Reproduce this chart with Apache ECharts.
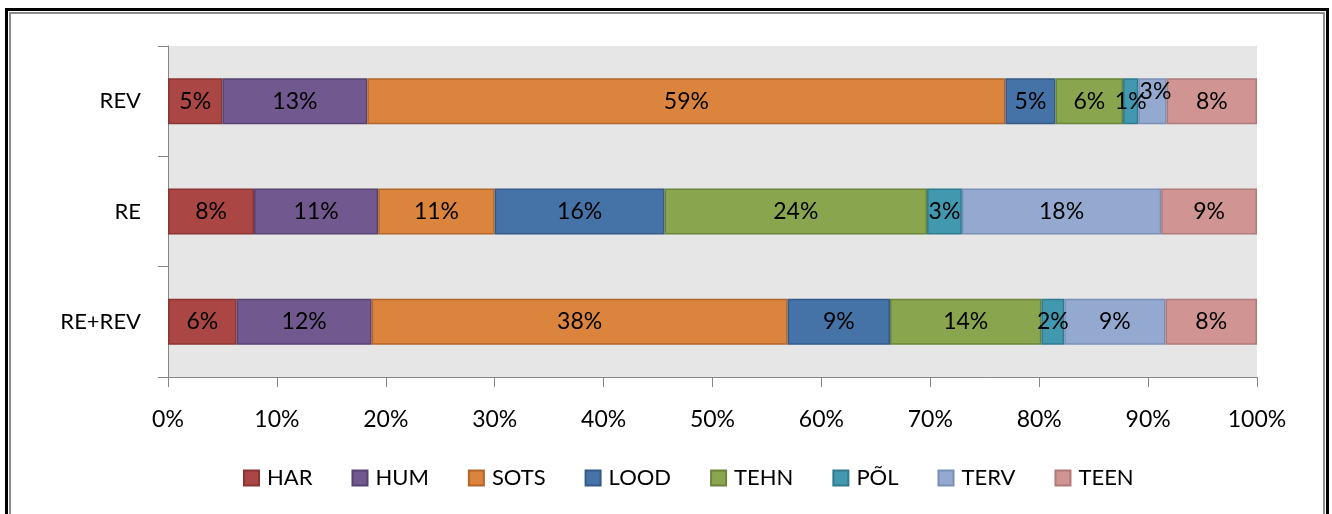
<!DOCTYPE html>
<html>
<head>
<meta charset="utf-8">
<script src="https://cdn.jsdelivr.net/npm/echarts@6/dist/echarts.min.js"></script>
<style>
  html, body { margin: 0; padding: 0; background: #fff; }
  #frame {
    position: absolute; left: 5px; top: 8px; width: 1318px; height: 530px;
    border: 3px solid #000;
    box-shadow: inset 0 0 0 1px #fff, inset 0 0 0 3px #8c8c8c;
  }
  #chart { position: absolute; left: 0; top: 0; width: 1332px; height: 514px; }
</style>
</head>
<body>
<div id="frame"></div>
<div id="chart"></div>
<script>
// kategooriad alt üles
const categories = ['RE+REV', 'RE', 'REV'];
const seriesNames = ['HAR', 'HUM', 'SOTS', 'LOOD', 'TEHN', 'PÕL', 'TERV', 'TEEN'];

// osakaalud protsentides (RE+REV, RE, REV)
const har  = [6.3, 7.9, 5.0];
const hum  = [12.4, 11.4, 13.3];
const sots = [38.2, 10.7, 58.6];
const lood = [9.4, 15.6, 4.6];
const tehn = [13.9, 24.1, 6.2];
const pol  = [2.1, 3.2, 1.4];
const terv = [9.3, 18.3, 2.6];
const teen = [8.4, 8.8, 8.3];

const xTicks = [0, 10, 20, 30, 40, 50, 60, 70, 80, 90, 100];

const values = [har, hum, sots, lood, tehn, pol, terv, teen];
const colors = ['#AA4643', '#71588F', '#DB843D', '#4572A7', '#89A54E', '#4198AF', '#93A9CF', '#D09493'];
const borders = ['#8a3533', '#564370', '#b2662a', '#335a88', '#6b843a', '#2f7a8e', '#7a8fb5', '#b07a79'];

const font = 'Lato, "Liberation Sans", sans-serif';

const chart = echarts.init(document.getElementById('chart'));

const series = seriesNames.map((name, i) => ({
  name: name,
  type: 'bar',
  stack: 'total',
  barWidth: 46,
  data: values[i].map((v, j) => {
    // REV rea väike TERV silt on veidi üles nihutatud
    if (name === 'TERV' && categories[j] === 'REV') {
      return { value: v, label: { offset: [3, -10] } };
    }
    return v;
  }),
  itemStyle: { color: colors[i], borderColor: borders[i], borderWidth: 1.5 },
  label: {
    show: true,
    position: 'inside',
    color: '#000',
    fontSize: 23,
    fontFamily: font,
    formatter: p => Math.round(p.value) + '%'
  }
}));

chart.setOption({
  backgroundColor: 'transparent',
  animation: false,
  color: colors,
  grid: {
    left: 168, right: 75, top: 46, bottom: 137,
    show: true, backgroundColor: '#e6e6e6', borderWidth: 0
  },
  legend: {
    data: seriesNames,
    left: 238, top: 462,
    icon: 'rect',
    itemWidth: 15, itemHeight: 15,
    itemGap: 39,
    textStyle: { fontSize: 22, color: '#000', fontFamily: font, padding: [0, 0, 0, 3] }
  },
  xAxis: {
    type: 'value',
    min: xTicks[0], max: xTicks[xTicks.length - 1], interval: 10,
    axisLine: { show: true, lineStyle: { color: '#868686', width: 1 } },
    axisTick: { show: true, length: 10, lineStyle: { color: '#868686' } },
    splitLine: { show: false },
    axisLabel: { fontSize: 23, color: '#000', fontFamily: font, margin: 31, formatter: '{value}%' }
  },
  yAxis: {
    type: 'category',
    data: categories,
    axisLine: { show: true, lineStyle: { color: '#868686', width: 1 } },
    axisTick: { show: true, length: 10, lineStyle: { color: '#868686' } },
    axisLabel: { fontSize: 22, color: '#000', fontFamily: font, margin: 27 }
  },
  series: series
});
</script>
</body>
</html>
